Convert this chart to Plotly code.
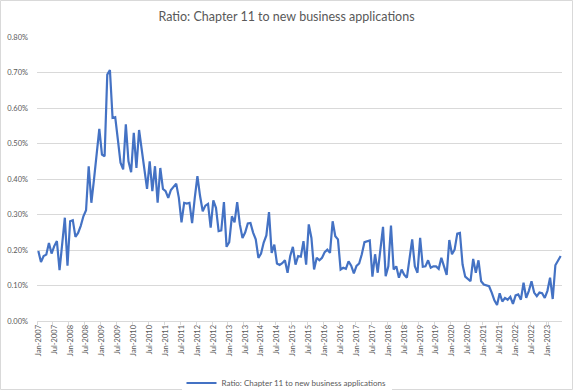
import plotly.graph_objects as go
import pandas as pd

# Monthly categories Jan-2007 .. Jun-2023
months = pd.date_range("2007-01-01", periods=198, freq="MS").strftime("%b-%Y").tolist()

# Ratio values in percent
ratio_2007 = [0.197, 0.166, 0.183, 0.187, 0.220, 0.190, 0.211, 0.225, 0.143, 0.220, 0.291, 0.156]
ratio_2008 = [0.281, 0.284, 0.237, 0.248, 0.268, 0.295, 0.312, 0.436, 0.333, 0.399, 0.464, 0.541]
ratio_2009 = [0.469, 0.464, 0.694, 0.707, 0.572, 0.574, 0.511, 0.446, 0.427, 0.554, 0.450, 0.419]
ratio_2010 = [0.530, 0.431, 0.538, 0.483, 0.413, 0.372, 0.450, 0.366, 0.436, 0.333, 0.431, 0.372]
ratio_2011 = [0.366, 0.347, 0.369, 0.378, 0.387, 0.347, 0.278, 0.333, 0.331, 0.333, 0.276, 0.347]
ratio_2012 = [0.408, 0.352, 0.309, 0.325, 0.330, 0.263, 0.340, 0.319, 0.253, 0.255, 0.335, 0.209]
ratio_2013 = [0.222, 0.295, 0.278, 0.335, 0.272, 0.234, 0.249, 0.275, 0.276, 0.249, 0.230, 0.178]
ratio_2014 = [0.190, 0.221, 0.241, 0.307, 0.192, 0.215, 0.162, 0.158, 0.163, 0.171, 0.136, 0.183]
ratio_2015 = [0.209, 0.159, 0.183, 0.181, 0.225, 0.159, 0.272, 0.234, 0.145, 0.178, 0.171, 0.178]
ratio_2016 = [0.194, 0.201, 0.192, 0.281, 0.239, 0.230, 0.145, 0.150, 0.147, 0.168, 0.156, 0.134]
ratio_2017 = [0.155, 0.162, 0.188, 0.222, 0.225, 0.227, 0.125, 0.188, 0.136, 0.200, 0.265, 0.126]
ratio_2018 = [0.154, 0.269, 0.145, 0.154, 0.122, 0.145, 0.130, 0.122, 0.178, 0.230, 0.154, 0.136]
ratio_2019 = [0.234, 0.153, 0.154, 0.171, 0.150, 0.154, 0.154, 0.147, 0.178, 0.154, 0.130, 0.228]
ratio_2020 = [0.188, 0.201, 0.246, 0.248, 0.159, 0.125, 0.117, 0.112, 0.175, 0.136, 0.171, 0.112]
ratio_2021 = [0.103, 0.100, 0.098, 0.080, 0.058, 0.045, 0.078, 0.055, 0.065, 0.060, 0.068, 0.048]
ratio_2022 = [0.072, 0.075, 0.060, 0.108, 0.065, 0.085, 0.112, 0.080, 0.070, 0.080, 0.078, 0.065]
ratio_2023 = [0.085, 0.122, 0.062, 0.157, 0.172, 0.183]

ratio = (ratio_2007 + ratio_2008 + ratio_2009 + ratio_2010 + ratio_2011 + ratio_2012
         + ratio_2013 + ratio_2014 + ratio_2015 + ratio_2016 + ratio_2017 + ratio_2018
         + ratio_2019 + ratio_2020 + ratio_2021 + ratio_2022 + ratio_2023)

tick_labels = ["Jan-2007", "Jul-2007", "Jan-2008", "Jul-2008", "Jan-2009", "Jul-2009",
               "Jan-2010", "Jul-2010", "Jan-2011", "Jul-2011", "Jan-2012", "Jul-2012",
               "Jan-2013", "Jul-2013", "Jan-2014", "Jul-2014", "Jan-2015", "Jul-2015",
               "Jan-2016", "Jul-2016", "Jan-2017", "Jul-2017", "Jan-2018", "Jul-2018",
               "Jan-2019", "Jul-2019", "Jan-2020", "Jul-2020", "Jan-2021", "Jul-2021",
               "Jan-2022", "Jul-2022", "Jan-2023"]

series_name = "Ratio: Chapter 11 to new business applications"

W, H = 573, 390
ml, mr, mt, mb = 37, 11, 37, 69
pw, ph = W - ml - mr, H - mt - mb

FONT = "Lato"
GRAY = "#595959"
GRID = "#d9d9d9"

fig = go.Figure()
fig.add_trace(go.Scatter(
    x=months, y=ratio, mode="lines", name=series_name,
    line=dict(color="#4472C4", width=2.2),
))

fig.update_layout(
    width=W, height=H, autosize=False,
    margin=dict(l=ml, r=mr, t=mt, b=mb, pad=0, autoexpand=False),
    paper_bgcolor="white", plot_bgcolor="white",
    title=dict(text=series_name, x=0.5, xref="container", xanchor="center",
               y=1 - 17 / H, yref="container", yanchor="middle",
               font=dict(family=FONT, size=12.5, color=GRAY)),
    showlegend=True,
    legend=dict(orientation="h", xref="container", x=0.5, xanchor="center",
                yref="container", y=7 / H, yanchor="middle",
                font=dict(family=FONT, size=8, color=GRAY), itemwidth=30),
    font=dict(family=FONT, color=GRAY),
)

fig.update_xaxes(
    type="category", categoryorder="array", categoryarray=months,
    range=[-0.5, len(months) - 0.5], automargin=False,
    tickmode="array", tickvals=tick_labels, ticktext=tick_labels,
    tickangle=-90, tickfont=dict(family=FONT, size=7.5, color=GRAY),
    ticks="outside", ticklen=3, tickcolor=GRID, tickson="boundaries",
    showline=True, linecolor=GRID, linewidth=1, showgrid=False, zeroline=False,
)

fig.update_yaxes(
    range=[0, 0.8], dtick=0.1, tick0=0, tickformat=".2f", ticksuffix="%",
    automargin=False,
    tickfont=dict(family=FONT, size=7.5, color=GRAY),
    showgrid=True, gridcolor=GRID, gridwidth=1, zeroline=False, showline=False,
    ticks="", ticklabelstandoff=8,
)

# Chart-area border
fig.add_shape(type="rect", xref="paper", yref="paper",
              x0=(0.5 - ml) / pw, x1=(W - 0.5 - ml) / pw,
              y0=(0.5 - mb) / ph, y1=(H - mb - 0.5) / ph,
              line=dict(color=GRID, width=1), fillcolor="rgba(0,0,0,0)", layer="below")

fig.write_html("out.html",
               config={"displayModeBar": False, "staticPlot": True},
               post_script="document.body.style.margin='0';document.body.style.overflow='hidden';")
